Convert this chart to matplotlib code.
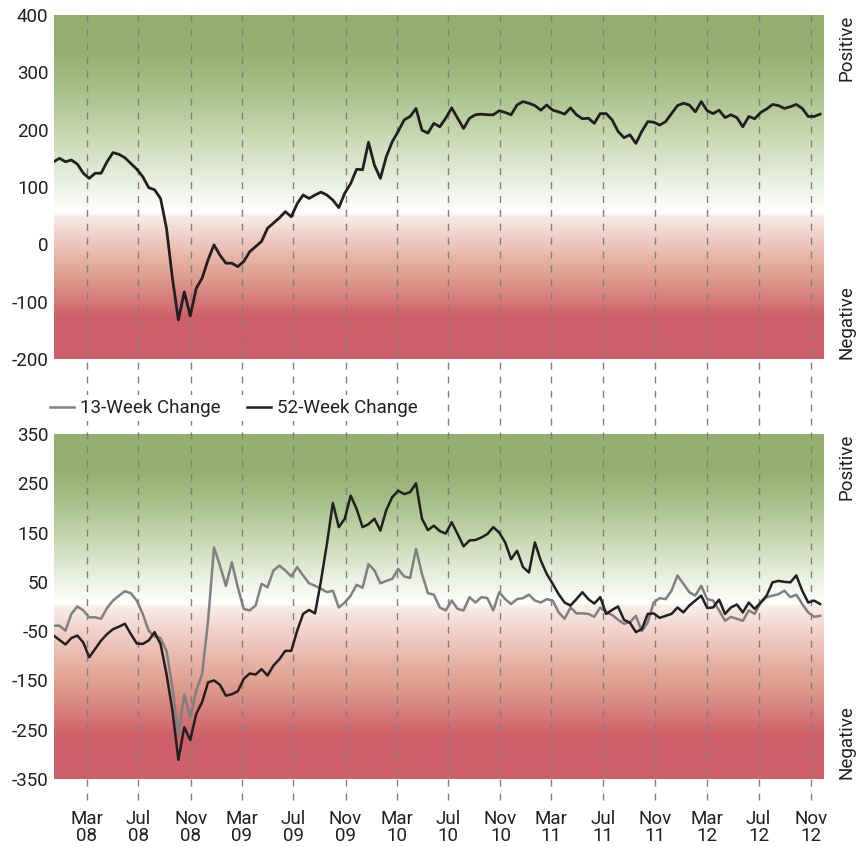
import numpy as np
import pandas as pd
import matplotlib
matplotlib.use("Agg")
import matplotlib.pyplot as plt
import matplotlib.dates as mdates
from matplotlib.colors import LinearSegmentedColormap
from matplotlib.transforms import blended_transform_factory

plt.rcParams['font.family'] = ['Roboto', 'DejaVu Sans']

# biweekly observations
dates = pd.date_range('2007-12-14', periods=130, freq='14D')

top_change = [
    144, 150, 144, 147, 140, 124, 115, 124, 124, 144,
    160, 157, 151, 141, 131, 118, 99, 95, 80, 28,
    -59, -132, -83, -125, -77, -59, -27, -1, -19, -33,
    -33, -39, -30, -13, -4, 5, 28, 37, 46, 57,
    48, 71, 86, 80, 86, 91, 86, 77, 64, 89,
    106, 131, 130, 178, 138, 115, 153, 179, 197, 217,
    223, 237, 199, 194, 211, 205, 220, 238, 220, 202,
    220, 226, 227, 226, 226, 233, 230, 226, 243, 249,
    246, 242, 234, 243, 234, 231, 227, 238, 226, 219,
    220, 211, 228, 228, 217, 197, 186, 191, 176, 197,
    214, 213, 208, 214, 228, 242, 246, 243, 231, 249,
    233, 228, 234, 221, 226, 221, 205, 223, 219, 230,
    236, 244, 242, 237, 240, 244, 237, 223, 223, 227,
]

week13 = [
    -39, -39, -49, -15, 0, -8, -22, -22, -25, -3,
    12, 22, 31, 27, 12, -15, -49, -61, -64, -90,
    -164, -260, -178, -225, -171, -137, -29, 120, 83, 42,
    90, 39, -5, -8, 2, 46, 39, 73, 83, 73,
    61, 80, 63, 47, 42, 36, 29, 32, -2, 8,
    22, 44, 38, 86, 73, 47, 52, 56, 76, 61,
    58, 117, 66, 27, 24, -2, -8, 12, -5, -8,
    19, 8, 19, 17, -8, 29, 15, 5, 15, 17,
    24, 12, 8, 15, 12, -12, -25, -2, -14, -14,
    -15, -21, -2, -12, -17, -27, -35, -32, -19, -50,
    -32, 8, 17, 15, 32, 63, 46, 29, 22, 42,
    15, 12, -8, -29, -21, -25, -29, -8, -15, 8,
    19, 22, 25, 32, 19, 24, 5, -12, -21, -19,
]

week52 = [
    -59, -68, -77, -64, -59, -73, -103, -86, -69, -56,
    -46, -41, -35, -56, -75, -76, -69, -52, -76, -137,
    -211, -311, -245, -271, -218, -194, -154, -150, -159, -181,
    -178, -172, -147, -136, -138, -127, -140, -120, -107, -90,
    -90, -49, -15, -7, -14, 52, 127, 210, 161, 178,
    225, 198, 161, 167, 178, 154, 196, 222, 235, 228,
    232, 250, 178, 155, 164, 153, 148, 171, 147, 122,
    134, 135, 140, 147, 161, 150, 130, 96, 113, 80,
    69, 130, 93, 66, 46, 25, 8, 2, 15, 29,
    15, 6, 19, -15, -7, 0, -27, -33, -52, -46,
    -15, -14, -23, -19, -15, -2, -12, 2, 12, 22,
    -3, -2, 14, -15, -2, 4, -12, 8, -5, 8,
    22, 49, 52, 50, 49, 63, 32, 8, 12, 5,
]

tick_dates = pd.date_range('2008-03-01', '2012-11-01', freq='4MS')
tick_labels = [d.strftime('%b') + '\n' + d.strftime('%y') for d in tick_dates]

top_ticks = [-200, -100, 0, 100, 200, 300, 400]
bot_ticks = [-350, -250, -150, -50, 50, 150, 250, 350]

txt = '#231f20'
green = '#93af6f'
red = '#cd6068'


def gradient(white_pos):
    r, g = 0.12, 0.90
    stops = [(0.0, red), (r, red)]
    for t, c in [(0.85, '#d5787a'), (0.6, '#dfa08f'), (0.3, '#edc5bb'), (0.03, '#f9ece9')]:
        stops.append((white_pos - t * (white_pos - r), c))
    stops.append((white_pos, '#ffffff'))
    for t, c in [(0.2, '#e9efe0'), (0.5, '#c4d6ad'), (0.8, '#a3bd84')]:
        stops.append((white_pos + t * (g - white_pos), c))
    stops += [(g, green), (1.0, green)]
    return LinearSegmentedColormap.from_list('bg', stops)


fig = plt.figure(figsize=(8.67, 8.47), dpi=100)
ax1 = fig.add_axes([0.0623, 0.5762, 0.887, 0.4061])
ax2 = fig.add_axes([0.0623, 0.0803, 0.887, 0.4073])

xmin = mdates.date2num(pd.Timestamp('2007-12-15'))
xmax = mdates.date2num(pd.Timestamp('2012-11-30'))

for ax, ylo, yhi, wpos, ticks, ext in [
        (ax1, -200, 400, 0.425, top_ticks, (-0.07, 1.0)),
        (ax2, -350, 350, 0.51, bot_ticks, (-0.06, 1.14))]:
    grad = np.linspace(0, 1, 400).reshape(-1, 1)
    ax.imshow(grad, cmap=gradient(wpos), aspect='auto', origin='lower',
              extent=[xmin, xmax, ylo, yhi], zorder=0)
    ax.set_xlim(xmin, xmax)
    ax.set_ylim(ylo, yhi)
    trans = blended_transform_factory(ax.transData, ax.transAxes)
    for d in tick_dates:
        ax.plot([d, d], list(ext), transform=trans, color='#808080', lw=1.0,
                ls=(0, (5, 5)), clip_on=False, zorder=1)
    ax.set_yticks(ticks)
    ax.set_yticklabels([str(t) for t in ticks], fontsize=13.5, color=txt)
    ax.tick_params(length=0, pad=4)
    for s in ax.spines.values():
        s.set_visible(False)
    ax.text(1.03, 1.0, 'Positive', transform=ax.transAxes, rotation=90,
            ha='center', va='top', fontsize=13.5, color=txt)
    ax.text(1.03, 0.0, 'Negative', transform=ax.transAxes, rotation=90,
            ha='center', va='bottom', fontsize=13.5, color=txt)

ax1.plot(dates, top_change, color=txt, lw=2.0, zorder=3)
ax1.set_xticks(tick_dates)
ax1.set_xticklabels([])

ax2.plot(dates, week13, color='#808080', lw=1.8, zorder=3, label='13-Week Change')
ax2.plot(dates, week52, color=txt, lw=1.8, zorder=4, label='52-Week Change')
ax2.set_xticks(tick_dates)
ax2.set_xticklabels(tick_labels, fontsize=13.5, color=txt, linespacing=0.95)
ax2.tick_params(axis='x', pad=22)

leg = ax2.legend(loc='center left', bbox_to_anchor=(-0.01, 1.075), ncol=2,
                 frameon=True, facecolor='white', edgecolor='none', framealpha=1,
                 fontsize=13.5, handlelength=1.3, handletextpad=0.3,
                 columnspacing=1.4, borderaxespad=0, borderpad=0.2)
for t in leg.get_texts():
    t.set_color(txt)
leg.set_zorder(10)

fig.savefig('out.png', dpi=100)
